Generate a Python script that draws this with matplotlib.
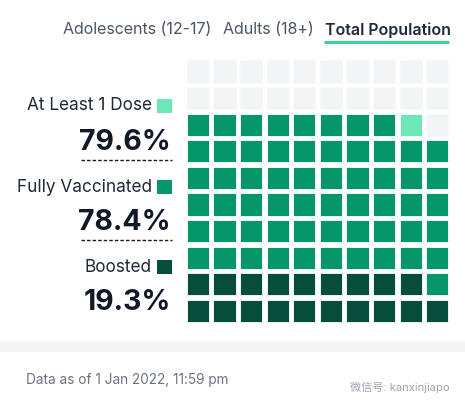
import math
import matplotlib
matplotlib.use('Agg')
import matplotlib.pyplot as plt
from matplotlib.patches import Rectangle

plt.rcParams['font.family'] = ['Inter', 'Noto Sans CJK SC', 'DejaVu Sans']

# data
tabs = ['Adolescents (12-17)', 'Adults (18+)', 'Total Population']
labels = ['At Least 1 Dose', 'Fully Vaccinated', 'Boosted']
values = [79.6, 78.4, 19.3]
colors = ['#6ee7b7', '#059669', '#064e3b']
empty_color = '#f3f4f6'
note = 'Data as of 1 Jan 2022, 11:59 pm'
credit = '微信号: kanxinjiapo'

fig = plt.figure(figsize=(4.65, 4.07), dpi=100)
ax = fig.add_axes([0, 0, 1, 1])
ax.set_xlim(0, 465)
ax.set_ylim(407, 0)
ax.axis('off')

# tabs
tab_x = [63, 223, 325]
for i, (t, x) in enumerate(zip(tabs, tab_x)):
    active = i == len(tabs) - 1
    ax.text(x, 30, t, fontsize=11.5, va='center', ha='left',
            color='#1f2937' if active else '#4b5563',
            fontweight='semibold' if active else 'normal')
ax.plot([324, 449], [42, 42], color='#34d399', lw=2.2, solid_capstyle='butt')

# waffle: 10x10, filled from bottom-left, row by row
counts = [math.floor(v) for v in values]
n_dark = counts[2]
n_mid = counts[1] - counts[2]
n_light = counts[0] - counts[1]
cell_colors = ([colors[2]] * n_dark + [colors[1]] * n_mid +
               [colors[0]] * n_light)
cell_colors += [empty_color] * (100 - len(cell_colors))

x0, y_bottom = 186.7, 322.0
pitch, size = 26.6, 22.3
for k, c in enumerate(cell_colors):
    r, col = divmod(k, 10)
    x = x0 + col * pitch
    y = y_bottom - r * pitch - size
    edge = '#f9fafb' if c == empty_color else '#ffffff'
    ax.add_patch(Rectangle((x, y), size, size, facecolor=c,
                           edgecolor=edge, lw=0.6))

# legend labels and big numbers
label_y = [106, 187, 267]
value_y = [143, 223, 302]
for i in range(3):
    ax.text(152, label_y[i], labels[i], fontsize=12.4, ha='right',
            va='center', color='#1f2937')
    ax.add_patch(Rectangle((157, label_y[i] - 7), 15, 14,
                           facecolor=colors[i], edgecolor='none'))
    ax.text(171, value_y[i], f'{values[i]}%', fontsize=20.5, ha='right',
            va='center', color='#111827', fontweight='bold')
    if i < 2:
        ax.plot([81, 172], [value_y[i] + 17] * 2, color='#111827',
                lw=1, ls=(0, (2.5, 1.5)))

# footer
ax.add_patch(Rectangle((0, 342), 465, 10, facecolor=empty_color,
                       edgecolor='none'))
ax.text(26, 380, note, fontsize=9.8, ha='left', va='center', color='#6b7280')
ax.text(450, 387, credit, fontsize=8, ha='right', va='center',
        color='#9ca3af')

fig.savefig('out.png', dpi=100)
